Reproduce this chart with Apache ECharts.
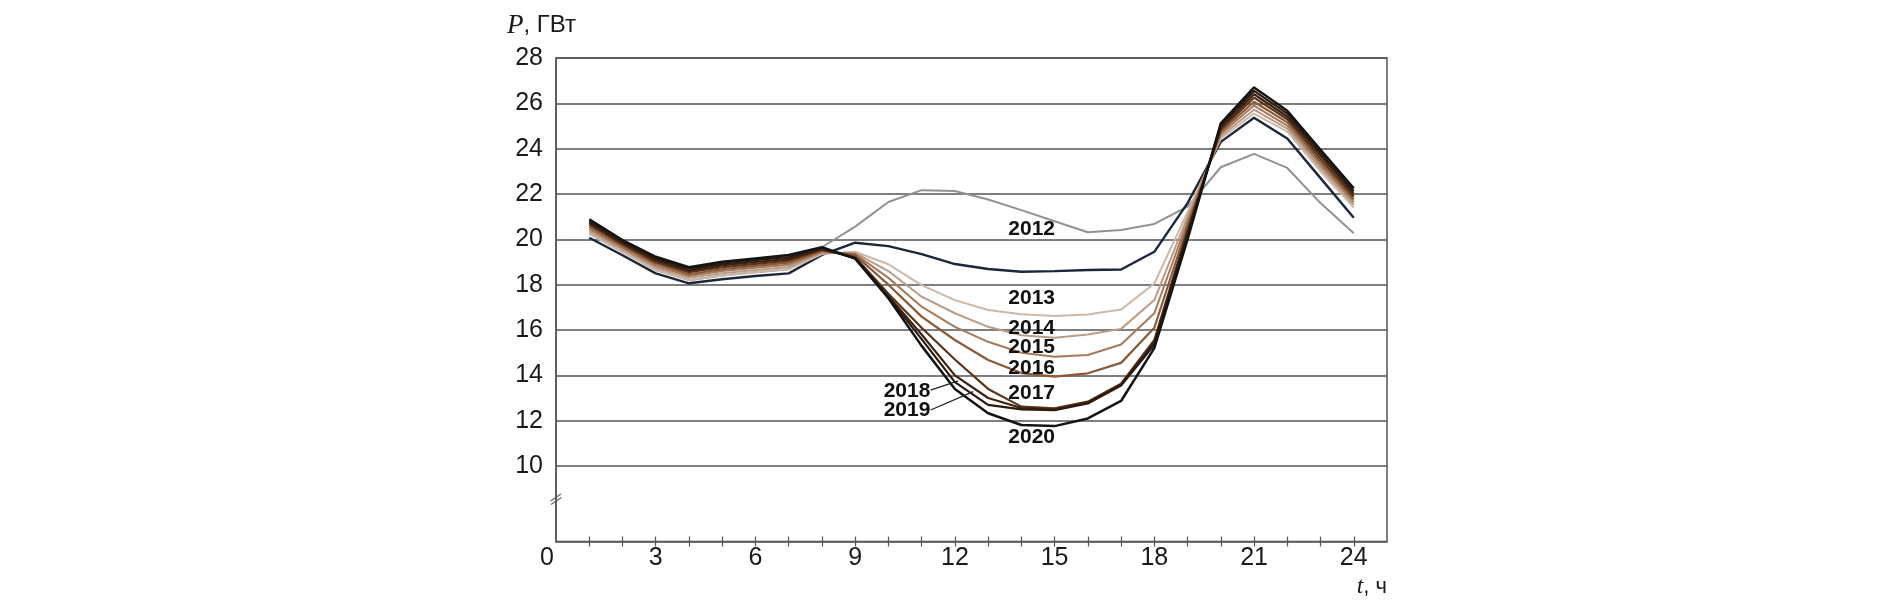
<!DOCTYPE html>
<html><head><meta charset="utf-8">
<script src="https://cdn.jsdelivr.net/npm/echarts@6/dist/echarts.min.js"></script>
<style>html,body{margin:0;padding:0;background:#fff}#c{width:1903px;height:611px}</style>
</head><body><div id="c"></div>
<script>
const hours = [1,2,3,4,5,6,7,8,9,10,11,12,13,14,15,16,17,18,19,20,21,22,23,24];
const xTickLabels = [0,3,6,9,12,15,18,21,24];
const xTicks = [1,2,3,4,5,6,7,8,9,10,11,12,13,14,15,16,17,18,19,20,21,22,23,24];
const yTickLabels = [10,12,14,16,18,20,22,24,26,28];

// light gray curve (unlabelled) and dark navy curve
const loadGray = [20.25,19.45,18.65,18.2,18.4,18.55,18.68,19.65,20.56,21.65,22.17,22.13,21.76,21.29,20.8,20.31,20.41,20.68,21.44,23.18,23.77,23.15,21.6,20.27];
const loadNavy = [20.07,19.3,18.5,18.06,18.24,18.38,18.5,19.31,19.85,19.7,19.35,18.91,18.69,18.57,18.6,18.65,18.67,19.45,21.6,24.3,25.36,24.45,22.7,20.95];
const load2013 = [20.25,19.45,18.65,18.2,18.4,18.55,18.68,19.35,19.45,18.9,17.98,17.32,16.88,16.7,16.62,16.68,16.9,18.05,21.2,24.45,25.55,24.75,23.0,21.4];
const load2014 = [20.35,19.55,18.75,18.3,18.5,18.65,18.78,19.4,19.4,18.6,17.47,16.74,16.14,15.77,15.66,15.8,16.05,17.32,21.0,24.55,25.72,24.88,23.13,21.52];
const load2015 = [20.45,19.62,18.83,18.38,18.6,18.75,18.88,19.45,19.35,18.3,17.03,16.14,15.48,15.0,14.82,14.9,15.36,16.74,20.8,24.65,25.9,25.02,23.27,21.64];
const load2016 = [20.55,19.7,18.92,18.46,18.68,18.83,18.97,19.5,19.3,18.0,16.59,15.56,14.68,14.1,13.94,14.09,14.55,16.1,20.6,24.75,26.07,25.16,23.41,21.76];
const load2017 = [20.65,19.78,19.0,18.55,18.77,18.92,19.06,19.54,19.22,17.6,16.1,14.7,13.4,12.62,12.54,12.84,13.63,15.56,20.4,24.85,26.25,25.3,23.55,21.88];
const load2018 = [20.72,19.84,19.08,18.62,18.85,19.0,19.14,19.58,19.18,17.5,15.8,14.0,13.0,12.56,12.5,12.8,13.6,15.45,20.3,24.95,26.4,25.42,23.7,22.0];
const load2019 = [20.8,19.9,19.15,18.7,18.93,19.08,19.22,19.62,19.16,17.45,15.6,13.7,12.7,12.5,12.46,12.76,13.55,15.35,20.2,25.05,26.55,25.55,23.82,22.12];
const load2020 = [20.88,19.97,19.23,18.77,19.01,19.16,19.31,19.65,19.15,17.4,15.3,13.4,12.33,11.81,11.76,12.1,12.87,15.2,20.0,25.12,26.7,25.67,23.95,22.25];

// year annotations (data coordinates: hour, GW)
const yearLabels = ['2012','2013','2014','2015','2016','2017','2018','2019','2020'];
const labelHour  = [14.31,14.31,14.31,14.31,14.31,14.31,10.56,10.56,14.31];
const labelValue = [20.44,17.40,16.10,15.22,14.31,13.23,13.31,12.47,11.27];
const leader2018 = [[11.27,13.35],[12.10,13.76]];
const leader2019 = [[11.27,12.47],[12.55,13.28]];

const seriesDefs = [
  ['2012a', loadGray, '#8f9297', 2],
  ['2012b', loadNavy, '#1b2638', 2.4],
  ['2013', load2013, '#cbb8a8', 2],
  ['2014', load2014, '#b99c87', 2],
  ['2015', load2015, '#a57a5c', 2],
  ['2016', load2016, '#8b5a38', 2.2],
  ['2017', load2017, '#5c3418', 2.2],
  ['2018', load2018, '#3d2210', 2.2],
  ['2019', load2019, '#2a1a10', 2.2],
  ['2020', load2020, '#141414', 2.5]
];

const chart = echarts.init(document.getElementById('c'));
const gridColor = '#555';
const series = seriesDefs.map(([name, vals, color, w]) => ({
  name, type: 'line', data: hours.map((h, i) => [h, vals[i]]),
  symbol: 'none', lineStyle: { color, width: w }, z: 3, animation: false
}));
series.push({
  type: 'line', data: leader2018, symbol: 'none', lineStyle: { color: '#222', width: 1.3 }, z: 4, animation: false
});
series.push({
  type: 'line', data: leader2019, symbol: 'none', lineStyle: { color: '#222', width: 1.3 }, z: 4, animation: false
});
series.push({
  type: 'scatter', symbolSize: 0, z: 5, animation: false,
  itemStyle: { opacity: 1 },
  data: yearLabels.map((t, i) => ({ name: t, value: [labelHour[i], labelValue[i]] })),
  label: { show: true, position: 'inside', formatter: p => p.name, opacity: 1, textBorderWidth: 0,
    fontFamily: 'Liberation Sans, Arial, sans-serif', fontWeight: 'bold', fontSize: 21, color: '#111' }
});

chart.setOption({
  animation: false,
  backgroundColor: '#fff',
  grid: { left: 556, top: 58, right: 516, bottom: 69.5, show: true, borderColor: gridColor, borderWidth: 1.5 },
  xAxis: [{
    type: 'value', min: 0, max: 25, position: 'bottom',
    axisLine: { show: true, lineStyle: { color: gridColor, width: 1.5 } },
    axisTick: { show: true, customValues: xTicks, length: 5, lineStyle: { color: gridColor, width: 1.2 } },
    axisLabel: { customValues: xTickLabels, fontFamily: 'Liberation Sans, Arial, sans-serif', fontSize: 25, color: '#1a1a1a', margin: 4,
      formatter: v => v === 0 ? '{z|0}' : String(v), rich: { z: { fontFamily: 'Liberation Sans, Arial, sans-serif', fontSize: 25, color: '#1a1a1a', padding: [0, 18, 0, 0] } } },
    splitLine: { show: false }
  }, {
    type: 'value', min: 0, max: 25, position: 'bottom',
    axisLine: { show: false },
    axisTick: { show: true, inside: true, customValues: xTicks, length: 5, lineStyle: { color: gridColor, width: 1.2 } },
    axisLabel: { show: false }, splitLine: { show: false }
  }],
  yAxis: {
    type: 'value', min: 6.67, max: 28,
    axisLine: { show: true, lineStyle: { color: gridColor, width: 1.5 } },
    axisTick: { show: false, customValues: yTickLabels },
    axisLabel: { customValues: yTickLabels, fontFamily: 'Liberation Sans, Arial, sans-serif', fontSize: 25, color: '#1a1a1a', margin: 13 },
    splitLine: { show: true, lineStyle: { color: gridColor, width: 1.5 } }
  },
  graphic: [
    { type: 'text', left: 507, top: 12, style: {
      text: '{p|P}, ГВт', fontFamily: 'Liberation Sans, Arial, sans-serif', fontSize: 24, fill: '#1a1a1a',
      rich: { p: { fontFamily: 'Liberation Serif, Times New Roman, serif', fontStyle: 'italic', fontSize: 27, fill: '#1a1a1a' } } } },
    { type: 'text', right: 516, top: 575, style: {
      text: '{t|t}, ч', fontFamily: 'Liberation Sans, Arial, sans-serif', fontSize: 22, fill: '#1a1a1a',
      rich: { t: { fontFamily: 'Liberation Serif, Times New Roman, serif', fontStyle: 'italic', fontSize: 24, fill: '#1a1a1a' } } } },
    { type: 'line', shape: { x1: 550.5, y1: 501, x2: 561, y2: 494 }, style: { stroke: '#666', lineWidth: 1.2 } },
    { type: 'line', shape: { x1: 551, y1: 504.5, x2: 561.5, y2: 497.5 }, style: { stroke: '#666', lineWidth: 1.2 } }
  ],
  series
});
</script></body></html>
